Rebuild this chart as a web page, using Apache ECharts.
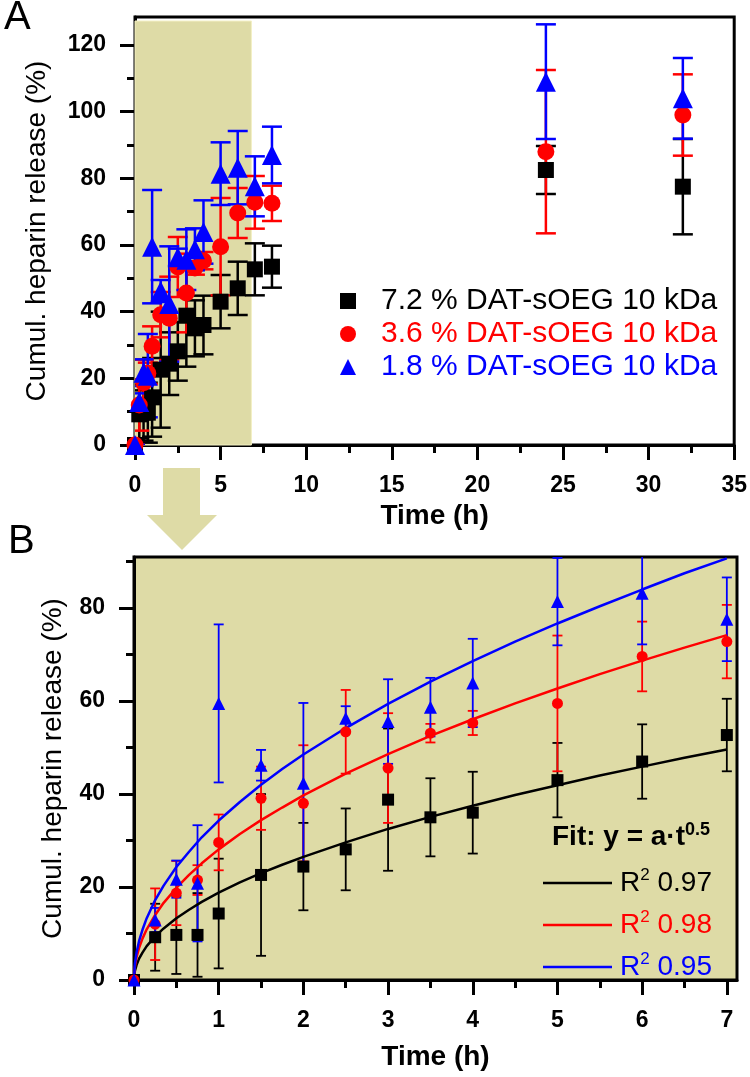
<!DOCTYPE html>
<html>
<head>
<meta charset="utf-8">
<title>Cumulative heparin release</title>
<script src="https://cdn.jsdelivr.net/npm/echarts@6/dist/echarts.min.js"></script>
<style>
  html, body { margin: 0; padding: 0; background: #fff; }
  #chart { width: 750px; height: 1077px; }
</style>
</head>
<body>
<div id="chart"></div>
<script>
// sampling times (h)
const times = [0, 0.25, 0.5, 0.75, 1, 1.5, 2, 2.5, 3, 3.5, 4, 5, 6, 7, 8, 24, 32];

// cumulative heparin release (%) and error (+/- %) per hydrogel
const black = [0, 9.2, 9.7, 9.7, 14.3, 22.6, 24.4, 28.1, 38.8, 35.0, 36.0, 43.0, 47.0, 52.7, 53.5, 82.5, 77.5];
const blackErr = [0, 7.2, 8.4, 9.0, 11.8, 17.4, 9.4, 8.8, 15.3, 8.4, 8.8, 8.0, 8.0, 7.8, 6.3, 7.2, 14.3];
const red = [0, 12.0, 18.7, 21.5, 29.6, 39.1, 38.0, 53.4, 45.6, 53.1, 55.3, 59.5, 69.6, 72.8, 72.5, 88.0, 99.0];
const redErr = [0, 7.7, 6.9, 3.2, 6.0, 6.8, 12.5, 9.0, 11.8, 2.0, 2.6, 14.6, 7.5, 7.9, 5.3, 24.5, 12.2];
const blue = [0, 12.9, 21.7, 20.8, 59.5, 46.2, 42.3, 56.3, 55.6, 58.7, 63.9, 81.4, 83.2, 77.6, 87.0, 109.0, 104.0];
const blueErr = [0, 2.6, 4.0, 12.5, 17.0, 3.3, 17.3, 2.6, 9.1, 6.3, 9.5, 9.4, 11.0, 9.0, 8.5, 17.2, 12.1];

// fitted curves y = a*t^0.5
const fitTimes = [0, 0.01, 0.03, 0.06, 0.1, 0.15, 0.25, 0.35, 0.5, 0.65, 0.8, 1, 1.25, 1.5, 1.75, 2, 2.5, 3, 3.5, 4, 4.5, 5, 5.5, 6, 6.5, 7];
const fitBlack = [0, 1.9, 3.2, 4.6, 5.9, 7.3, 9.4, 11.1, 13.3, 15.1, 16.8, 18.8, 21.0, 23.0, 24.8, 26.5, 29.6, 32.5, 35.1, 37.5, 39.8, 41.9, 44.0, 45.9, 47.8, 49.6];
const fitRed = [0, 2.8, 4.9, 6.9, 8.9, 10.9, 14.0, 16.6, 19.8, 22.6, 25.1, 28.1, 31.4, 34.4, 37.1, 39.7, 44.4, 48.6, 52.5, 56.1, 59.5, 62.7, 65.8, 68.7, 71.5, 74.2];
const fitBlue = [0, 3.4, 5.9, 8.4, 10.8, 13.3, 17.2, 20.3, 24.3, 27.6, 30.7, 34.3, 38.3, 42.0, 45.4, 48.5, 54.2, 59.4, 64.2, 68.6, 72.8, 76.7, 80.4, 84.0, 87.5, 90.7];

const names = ['7.2 % DAT-sOEG 10 kDa', '3.6 % DAT-sOEG 10 kDa', '1.8 % DAT-sOEG 10 kDa'];
const r2Labels = ['0.97', '0.98', '0.95'];

// axis ticks
const xTicksA = [0, 5, 10, 15, 20, 25, 30, 35];
const xMinorA = [2.5, 7.5, 12.5, 17.5, 22.5, 27.5, 32.5];
const yTicksA = [0, 20, 40, 60, 80, 100, 120];
const yMinorA = [10, 30, 50, 70, 90, 110];
const xTicksB = [0, 1, 2, 3, 4, 5, 6, 7];
const xMinorB = [0.5, 1.5, 2.5, 3.5, 4.5, 5.5, 6.5];
const yTicksB = [0, 20, 40, 60, 80];
const yMinorB = [10, 30, 50, 70, 90];

// shaded early-release window in panel A (h, %)
const shadeEnd = 6.8;
const shadeTop = 127.2;

const COLORS = ['#000000', '#ff0000', '#0000ff'];
const SYMBOLS = ['rect', 'circle', 'triangle'];
const KHAKI = '#dedba6';
const FONT = '"Liberation Sans", Arial, sans-serif';

const chart = echarts.init(document.getElementById('chart'));

function majorAxis(grid, min, max, ticks, labelSize, name, nameGap, isY) {
  return {
    type: 'value', gridIndex: grid, min: min, max: max,
    position: isY ? 'left' : 'bottom',
    axisLine: {show: true, onZero: false, lineStyle: {color: '#000', width: 3}},
    axisTick: {show: true, customValues: ticks, length: 15, lineStyle: {color: '#000', width: 3}},
    axisLabel: {customValues: ticks, margin: 29, fontSize: labelSize, fontWeight: 'bold', color: '#000', fontFamily: FONT},
    splitLine: {show: false},
    name: name, nameLocation: 'middle', nameGap: nameGap,
    nameRotate: isY ? 90 : 0,
    nameTextStyle: {fontSize: 28, fontWeight: isY ? 'normal' : 'bold', color: '#000', fontFamily: FONT}
  };
}

function minorAxis(grid, min, max, ticks, isY) {
  return {
    type: 'value', gridIndex: grid, min: min, max: max,
    position: isY ? 'left' : 'bottom',
    axisLine: {show: false, onZero: false},
    axisTick: {show: true, customValues: ticks, length: 8, lineStyle: {color: '#000', width: 3}},
    axisLabel: {show: false},
    splitLine: {show: false}
  };
}

function errorBars(vals, errs, color, axis, capW, lw, maxT) {
  const data = [];
  times.forEach((t, i) => {
    if (t <= maxT) data.push([t, vals[i] - errs[i], vals[i] + errs[i]]);
  });
  return {
    type: 'custom', xAxisIndex: axis, yAxisIndex: axis, silent: true, clip: true,
    data: data, encode: {x: 0, y: [1, 2]}, z: 2,
    renderItem(params, api) {
      const x = api.value(0);
      const lo = api.coord([x, api.value(1)]);
      const hi = api.coord([x, api.value(2)]);
      const st = {stroke: color, lineWidth: lw};
      return {
        type: 'group',
        children: [
          {type: 'line', shape: {x1: lo[0], y1: lo[1], x2: hi[0], y2: hi[1]}, style: st},
          {type: 'line', shape: {x1: lo[0] - capW / 2, y1: lo[1], x2: lo[0] + capW / 2, y2: lo[1]}, style: st},
          {type: 'line', shape: {x1: hi[0] - capW / 2, y1: hi[1], x2: hi[0] + capW / 2, y2: hi[1]}, style: st}
        ]
      };
    }
  };
}

function points(name, vals, k, axis, size, maxT) {
  const data = [];
  times.forEach((t, i) => { if (t <= maxT) data.push([t, vals[i]]); });
  return {
    name: name, type: 'scatter', xAxisIndex: axis, yAxisIndex: axis,
    data: data, symbol: SYMBOLS[k], symbolSize: size[k],
    itemStyle: {color: COLORS[k], opacity: 1}, z: 3, silent: true
  };
}

function fitLine(vals, k) {
  return {
    type: 'line', xAxisIndex: 2, yAxisIndex: 2,
    data: fitTimes.map((t, i) => [t, vals[i]]),
    showSymbol: false, smooth: false,
    lineStyle: {color: COLORS[k], width: 2.5}, z: 2, silent: true
  };
}

const series = [];
// panel A shading
series.push({
  type: 'scatter', xAxisIndex: 0, yAxisIndex: 0, data: [], silent: true,
  markArea: {
    silent: true,
    itemStyle: {color: KHAKI, borderColor: '#f3f0c4', borderWidth: 1},
    data: [[{coord: [0, 0]}, {coord: [shadeEnd, shadeTop]}]]
  },
  z: 1
});
const all = [[black, blackErr], [red, redErr], [blue, blueErr]];
all.forEach((d, k) => {
  series.push(errorBars(d[0], d[1], COLORS[k], 0, 20, 2.5, 100));
  series.push(points(names[k], d[0], k, 0, [16, 17, 20], 100));
});
[fitBlack, fitRed, fitBlue].forEach((f, k) => series.push(fitLine(f, k)));
all.forEach((d, k) => {
  series.push(errorBars(d[0], d[1], COLORS[k], 2, 10, 1.8, 7));
  series.push(points('B' + k, d[0], k, 2, [12, 11, 13], 7));
});

// legend block of panel B (fit and R^2)
const fitLegend = [{
  type: 'text', left: 552, top: 821,
  style: {
    text: '{b|Fit: y = a·t}{s|0.5}', fill: '#000',
    rich: {
      b: {fontSize: 28, fontWeight: 'bold', lineHeight: 32, fontFamily: FONT, fill: '#000'},
      s: {fontSize: 18, fontWeight: 'bold', lineHeight: 14, verticalAlign: 'top', fontFamily: FONT, fill: '#000'}
    }
  }
}];
r2Labels.forEach((r, k) => {
  const y = 883 + k * 42;
  fitLegend.push({type: 'line', shape: {x1: 543, y1: y, x2: 612, y2: y}, style: {stroke: COLORS[k], lineWidth: 2.5}});
  fitLegend.push({
    type: 'text', left: 620, top: y - 16,
    style: {
      text: '{r|R}{s|2}{r| ' + r + '}',
      rich: {
        r: {fontSize: 28, lineHeight: 32, fill: COLORS[k], fontFamily: FONT},
        s: {fontSize: 17, lineHeight: 14, verticalAlign: 'top', fill: COLORS[k], fontFamily: FONT}
      }
    }
  });
});

const option = {
  animation: false,
  backgroundColor: '#fff',
  textStyle: {fontFamily: FONT},
  grid: [
    {left: 135, top: 17, width: 600, height: 428, show: true, borderColor: '#000', borderWidth: 3, backgroundColor: 'transparent'},
    {left: 134, top: 557, width: 603, height: 423, show: true, borderColor: '#000', borderWidth: 3, backgroundColor: KHAKI}
  ],
  xAxis: [
    majorAxis(0, 0, 35, xTicksA, 23, 'Time (h)', 57, false),
    minorAxis(0, 0, 35, xMinorA, false),
    majorAxis(1, 0, 7.12, xTicksB, 23, 'Time (h)', 63, false),
    minorAxis(1, 0, 7.12, xMinorB, false)
  ],
  yAxis: [
    majorAxis(0, 0, 128.4, yTicksA, 23, 'Cumul. heparin release (%)', 84, true),
    minorAxis(0, 0, 128.4, yMinorA, true),
    majorAxis(1, 0, 91, yTicksB, 23, 'Cumul. heparin release (%)', 67, true),
    minorAxis(1, 0, 91, yMinorB, true)
  ],
  legend: {
    left: 335, top: 281, orient: 'vertical', selectedMode: false,
    itemWidth: 16, itemHeight: 16, itemGap: 3,
    textStyle: {fontSize: 30, fontFamily: FONT, padding: [0, 0, 0, 20]},
    data: names.map((n, k) => ({name: n, icon: SYMBOLS[k], textStyle: {color: COLORS[k]}}))
  },
  graphic: [
    {type: 'text', left: 4, top: -2, style: {text: 'A', fontSize: 40, fill: '#000', fontFamily: FONT}},
    {type: 'text', left: 8, top: 522, style: {text: 'B', fontSize: 40, fill: '#000', fontFamily: FONT}},
    {type: 'polygon', shape: {points: [[163, 468], [200, 468], [200, 515], [217, 515], [182, 550], [147, 515], [163, 515]]}, style: {fill: KHAKI}},
    ...fitLegend
  ],
  series: series
};

chart.setOption(option);
</script>
</body>
</html>
